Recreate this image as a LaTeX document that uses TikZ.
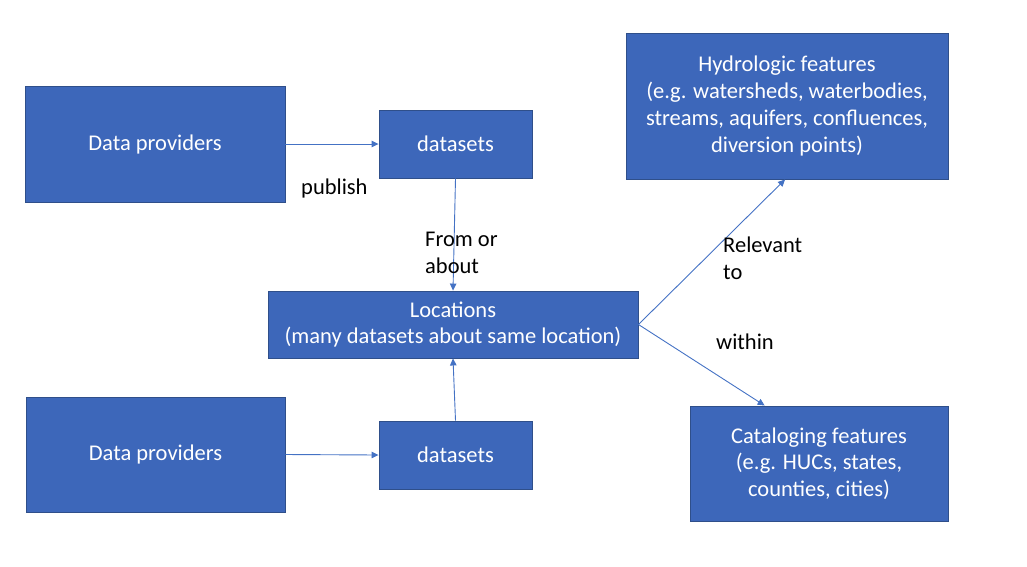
\documentclass[tikz,border=0pt]{standalone}
\usepackage{fontspec}
\setmainfont{Carlito}
\usetikzlibrary{arrows.meta,calc}
\definecolor{boxfill}{HTML}{3D67BA}
\definecolor{boxline}{HTML}{2F4F8A}
\definecolor{arrowc}{HTML}{4472C4}
\begin{document}
\begin{tikzpicture}[x=1pt,y=-1pt,
  box/.style={draw=boxline,line width=0.9pt,fill=boxfill,text=white,inner sep=0pt,
    align=center,font=\fontsize{22.5}{26.7}\selectfont},
  conn/.style={draw=arrowc,line width=0.9pt,-{Triangle[length=7pt,width=6.5pt]}},
  lbl/.style={font=\fontsize{22.5}{26.7}\selectfont,text=black,inner sep=0pt,align=left}]
\useasboundingbox (0,0) rectangle (1027,566);
\node[box,minimum width=260pt,minimum height=116pt] (dp1) at (155,144) {Data providers};
\node[box,minimum width=153pt,minimum height=68pt] (ds1) at (455.5,144) {datasets};
\node[box,minimum width=370pt,minimum height=67pt] (loc) at (453,324.5) {Locations\\(many datasets about same location)};
\node[box,minimum width=259pt,minimum height=115pt] (dp2) at (155.5,454.5) {Data providers};
\node[box,minimum width=153pt,minimum height=68pt] (ds2) at (455.5,455) {datasets};
\node[box,minimum width=322pt,minimum height=146pt] (hyd) at (787,106) {Hydrologic features\\(e.g. watersheds, waterbodies,\\streams, aquifers, confluences,\\diversion points)};
\node[box,minimum width=258pt,minimum height=115pt] (cat) at (819,463.5) {Cataloging features\\(e.g. HUCs, states,\\counties, cities)};
\coordinate (hydin) at ($(hyd.south west)!0.494!(hyd.south east)$);
\coordinate (catin) at ($(cat.north west)!0.29!(cat.north east)$);
\draw[conn] (dp1.east) -- (ds1.west);
\draw[conn] (dp2.east) -- (ds2.west);
\draw[conn] (ds1.south) -- (loc.north);
\draw[conn] (ds2.north) -- (loc.south);
\draw[conn] (loc.east) -- (hydin);
\draw[conn] (loc.east) -- (catin);
\node[lbl,anchor=west] (pub) at (301,188) {publish};
\node[lbl,anchor=north west] (from) at (425,232) {From or\\about};
\node[lbl,anchor=north west] (rel) at (723,237) {Relevant\\to};
\node[lbl,anchor=west] (within) at (716,342) {within};
\end{tikzpicture}
\end{document}
